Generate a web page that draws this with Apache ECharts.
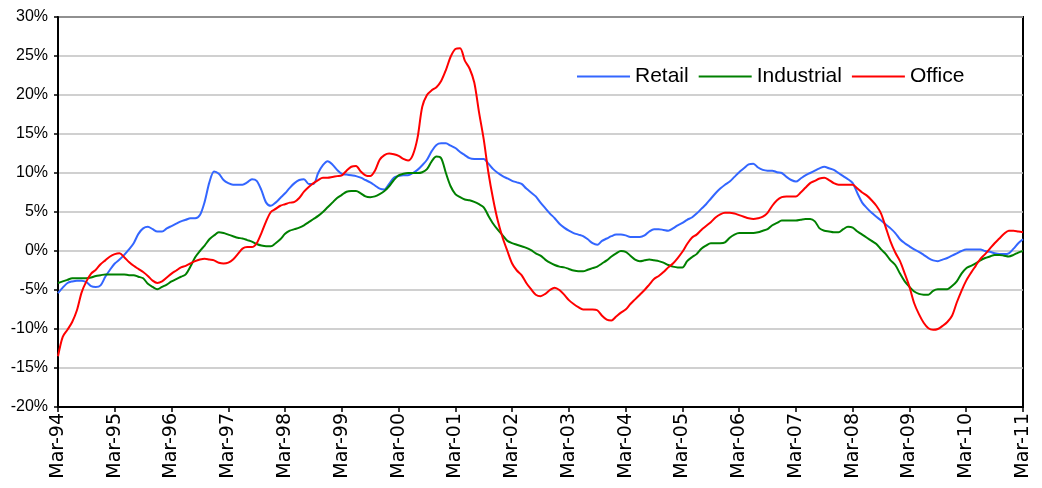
<!DOCTYPE html>
<html>
<head>
<meta charset="utf-8">
<script src="https://cdn.jsdelivr.net/npm/echarts@6/dist/echarts.min.js"></script>
<style>
  html, body { margin: 0; padding: 0; background: #fff; }
  #chart { width: 1042px; height: 488px; }
</style>
</head>
<body>
<div id="chart"></div>
<script>
// monthly series, Mar-94 .. Mar-11 (205 points), annual % change
const monthNames = ["Mar", "Apr", "May", "Jun", "Jul", "Aug", "Sep", "Oct", "Nov", "Dec", "Jan", "Feb"];
const yearLabels = ["94", "95", "96", "97", "98", "99", "00", "01", "02", "03", "04", "05", "06", "07", "08", "09", "10", "11"];

const retail = [
  -5.4, -4.7, -4.1, -3.9, -3.8, -3.8, -4.0, -4.5, -4.6, -4.4,
  -3.3, -2.4, -1.6, -1.1, -0.5, 0.2, 1.0, 2.2, 2.9, 3.1,
  2.8, 2.5, 2.5, 2.9, 3.2, 3.5, 3.8, 4.0, 4.2, 4.2,
  4.6, 6.3, 8.8, 10.2, 9.9, 9.1, 8.7, 8.5, 8.5, 8.5,
  8.8, 9.2, 9.0, 7.8, 6.2, 5.8, 6.2, 6.8, 7.4, 8.1,
  8.7, 9.1, 9.2, 8.6, 8.6, 10.0, 11.0, 11.5, 11.1, 10.4,
  9.9, 9.8, 9.7, 9.6, 9.4, 9.1, 8.8, 8.4, 8.0, 7.9,
  8.6, 9.4, 9.6, 9.7, 9.7, 10.0, 10.4, 11.0, 11.7, 12.8,
  13.6, 13.8, 13.8, 13.5, 13.2, 12.7, 12.3, 11.9, 11.8, 11.8,
  11.8, 11.2, 10.5, 10.0, 9.6, 9.3, 9.0, 8.8, 8.6, 8.0,
  7.5, 7.0, 6.2, 5.5, 4.8, 4.2, 3.5, 3.0, 2.6, 2.3,
  2.1, 1.9, 1.5, 1.0, 0.8, 1.3, 1.6, 1.9, 2.1, 2.1,
  2.0, 1.8, 1.8, 1.8, 2.0, 2.5, 2.8, 2.8, 2.7, 2.6,
  2.9, 3.3, 3.6, 4.0, 4.3, 4.8, 5.4, 6.0, 6.7, 7.4,
  8.0, 8.5, 8.9, 9.5, 10.1, 10.6, 11.1, 11.2, 10.7, 10.4,
  10.3, 10.3, 10.1, 10.0, 9.5, 9.1, 8.9, 9.3, 9.7, 10.0,
  10.3, 10.6, 10.8, 10.6, 10.4, 10.0, 9.6, 9.2, 8.7, 7.4,
  6.2, 5.5, 4.9, 4.4, 3.9, 3.4, 2.9, 2.3, 1.5, 1.0,
  0.6, 0.2, -0.1, -0.5, -0.9, -1.2, -1.3, -1.1, -0.9, -0.6,
  -0.3, 0.0, 0.2, 0.2, 0.2, 0.2, 0.0, -0.1, -0.3, -0.4,
  -0.4, -0.3, 0.3, 1.0, 1.5
];

const industrial = [
  -4.1, -3.9, -3.7, -3.5, -3.5, -3.5, -3.5, -3.4, -3.2, -3.1,
  -3.0, -3.0, -3.0, -3.0, -3.0, -3.1, -3.1, -3.3, -3.5, -4.2,
  -4.6, -4.9, -4.6, -4.3, -3.9, -3.6, -3.3, -3.0, -2.0, -0.8,
  0.0, 0.7, 1.5, 2.0, 2.4, 2.3, 2.1, 1.9, 1.7, 1.6,
  1.4, 1.2, 0.9, 0.7, 0.6, 0.6, 1.0, 1.5, 2.2, 2.6,
  2.8, 3.0, 3.3, 3.7, 4.1, 4.5, 5.0, 5.6, 6.2, 6.8,
  7.2, 7.6, 7.7, 7.7, 7.4, 7.0, 6.9, 7.0, 7.3, 7.7,
  8.3, 9.1, 9.7, 9.9, 10.0, 10.0, 10.0, 10.1, 10.5, 11.5,
  12.1, 11.9, 10.0, 8.3, 7.3, 6.9, 6.6, 6.5, 6.3, 6.0,
  5.6, 4.5, 3.5, 2.7, 2.0, 1.3, 1.0, 0.8, 0.6, 0.4,
  0.1, -0.3, -0.6, -1.1, -1.5, -1.8, -2.0, -2.1, -2.3, -2.5,
  -2.6, -2.6, -2.4, -2.2, -2.0, -1.6, -1.2, -0.7, -0.3, 0.0,
  -0.1, -0.6, -1.1, -1.3, -1.2, -1.1, -1.2, -1.3, -1.5, -1.8,
  -2.0, -2.1, -2.1, -1.3, -0.8, -0.4, 0.3, 0.7, 1.0, 1.0,
  1.0, 1.1, 1.7, 2.1, 2.3, 2.3, 2.3, 2.3, 2.4, 2.6,
  2.8, 3.3, 3.6, 3.9, 3.9, 3.9, 3.9, 4.0, 4.1, 4.1,
  3.8, 2.9, 2.6, 2.5, 2.4, 2.4, 2.8, 3.1, 3.0, 2.5,
  2.1, 1.7, 1.3, 0.9, 0.2, -0.4, -1.2, -1.8, -2.9, -3.9,
  -4.6, -5.2, -5.5, -5.6, -5.6, -5.1, -4.9, -4.9, -4.9, -4.5,
  -3.9, -2.9, -2.2, -1.9, -1.6, -1.2, -0.9, -0.7, -0.5, -0.5,
  -0.6, -0.7, -0.5, -0.2, 0.0
];

const office = [
  -13.5, -11.0, -10.1, -9.1, -7.6, -5.3, -3.9, -2.9, -2.4, -1.7,
  -1.2, -0.7, -0.4, -0.3, -0.8, -1.4, -1.9, -2.3, -2.7, -3.2,
  -3.8, -4.1, -3.9, -3.4, -2.9, -2.5, -2.1, -1.9, -1.6, -1.3,
  -1.1, -1.0, -1.1, -1.2, -1.5, -1.6, -1.5, -1.1, -0.4, 0.3,
  0.5, 0.5, 1.0, 2.3, 3.8, 5.0, 5.4, 5.8, 6.0, 6.2,
  6.3, 6.8, 7.6, 8.2, 8.7, 9.1, 9.4, 9.4, 9.5, 9.6,
  9.7, 10.3, 10.8, 10.9, 10.2, 9.7, 9.6, 10.3, 11.7, 12.3,
  12.5, 12.4, 12.2, 11.8, 11.6, 12.3, 14.5, 18.5, 20.0, 20.6,
  21.0, 21.8, 23.2, 24.9, 25.9, 26.0, 24.4, 23.4, 21.6, 17.8,
  14.3, 10.0, 6.6, 3.8, 1.7, 0.0, -1.6, -2.5, -3.1, -4.1,
  -4.9, -5.6, -5.8, -5.5, -5.0, -4.7, -5.0, -5.6, -6.3, -6.8,
  -7.2, -7.5, -7.5, -7.5, -7.6, -8.3, -8.8, -8.9, -8.4, -7.9,
  -7.5, -6.8, -6.2, -5.6, -5.0, -4.3, -3.6, -3.2, -2.7, -2.1,
  -1.6, -0.9, -0.1, 0.9, 1.7, 2.1, 2.7, 3.2, 3.7, 4.3,
  4.7, 4.9, 4.9, 4.8, 4.6, 4.4, 4.2, 4.1, 4.2, 4.4,
  4.9, 5.8, 6.5, 6.9, 7.0, 7.0, 7.0, 7.5, 8.1, 8.7,
  9.0, 9.3, 9.4, 9.1, 8.7, 8.5, 8.5, 8.5, 8.5, 8.0,
  7.5, 7.1, 6.5, 5.8, 4.8, 3.0, 1.2, -0.2, -1.3, -2.9,
  -4.6, -6.7, -8.1, -9.2, -9.9, -10.1, -10.0, -9.6, -9.1, -8.3,
  -6.6, -5.1, -3.8, -2.8, -1.9, -1.0, -0.4, 0.3, 1.0, 1.6,
  2.2, 2.6, 2.6, 2.5, 2.4
];

// Mar-94, Apr-94, ... Jan-95, Feb-95, ... Mar-11
const categories = retail.map((v, i) => monthNames[i % 12] + "-" + yearLabels[Math.floor((i + 2) / 12)]);

const chart = echarts.init(document.getElementById("chart"));

const lineSeries = (name, data, color) => ({
  name: name,
  type: "line",
  data: data,
  symbol: "none",
  smooth: 0.3,
  lineStyle: { color: color, width: 2 },
  itemStyle: { color: color }
});

chart.setOption({
  animation: false,
  backgroundColor: "#fff",
  grid: {
    left: 58, right: 19, top: 17, bottom: 81,
    show: true, borderColor: "#000", borderWidth: 2
  },
  legend: {
    left: 572, top: 61,
    icon: "rect",
    itemWidth: 53, itemHeight: 2, itemGap: 10,
    textStyle: { fontFamily: "Liberation Sans", fontSize: 21, color: "#000" },
    data: ["Retail", "Industrial", "Office"]
  },
  xAxis: {
    type: "category",
    data: categories,
    boundaryGap: false,
    axisLine: { onZero: false, lineStyle: { color: "#000", width: 2 } },
    axisTick: { interval: 11, length: 5, lineStyle: { color: "#000", width: 1.5 } },
    axisLabel: {
      interval: 11, rotate: 90, margin: 6,
      fontFamily: "DejaVu Sans", fontSize: 19, color: "#000"
    },
    splitLine: { show: false }
  },
  yAxis: {
    type: "value",
    min: -20, max: 30, interval: 5,
    axisLine: { show: true, lineStyle: { color: "#000", width: 2 } },
    axisTick: { show: true, length: 4, lineStyle: { color: "#000", width: 1.5 } },
    axisLabel: {
      formatter: "{value}%", margin: 10,
      fontFamily: "Liberation Sans", fontSize: 16, color: "#000"
    },
    splitLine: { lineStyle: { color: "#c0c0c0", width: 1.5 } }
  },
  series: [
    lineSeries("Retail", retail, "#3366ff"),
    lineSeries("Industrial", industrial, "#008000"),
    lineSeries("Office", office, "#ff0000")
  ]
});
</script>
</body>
</html>
